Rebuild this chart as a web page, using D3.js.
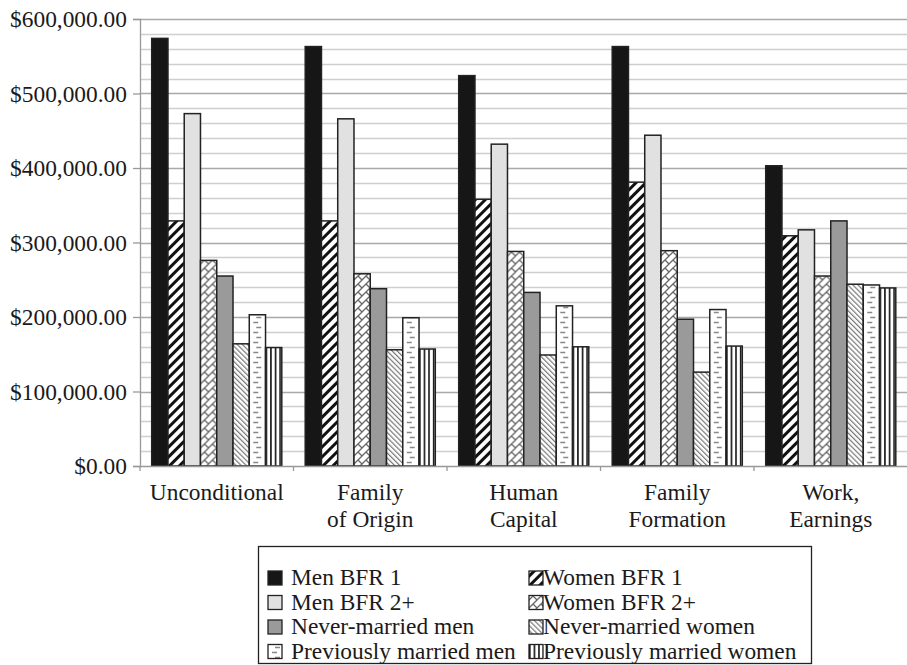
<!DOCTYPE html>
<html>
<head>
<meta charset="utf-8">
<script src="https://cdn.jsdelivr.net/npm/d3@7"></script>
<style>
  body { margin: 0; background: #fff; }
  svg text { font-family: "Liberation Serif", "Times New Roman", serif; }
</style>
</head>
<body>
<script>
// categories (x axis) and the text lines used for their labels
let categories = ["Unconditional", "Family of Origin", "Human Capital", "Family Formation", "Work, Earnings"];
let categoryLines = [["Unconditional"], ["Family", "of Origin"], ["Human", "Capital"], ["Family", "Formation"], ["Work,", "Earnings"]];

let series = ["Men BFR 1", "Women BFR 1", "Men BFR 2+", "Women BFR 2+",
    "Never-married men", "Never-married women", "Previously married men", "Previously married women"];

// values in dollars, one array per series, in category order
let menBfr1 = [574000, 563000, 524000, 563000, 403000];
let womenBfr1 = [329000, 329000, 358000, 381000, 309000];
let menBfr2 = [473000, 466000, 432000, 444000, 317000];
let womenBfr2 = [276000, 258000, 288000, 289000, 255000];
let neverMarriedMen = [255000, 238000, 233000, 197000, 329000];
let neverMarriedWomen = [164000, 156000, 149000, 126000, 244000];
let prevMarriedMen = [203000, 199000, 215000, 210000, 243000];
let prevMarriedWomen = [159000, 157000, 160000, 161000, 239000];

let yTicks = [0, 100000, 200000, 300000, 400000, 500000, 600000];

const FONT = "'Liberation Serif', 'Times New Roman', serif";
const FONT_SIZE = 23.4;

function main() {
    let width = 907, height = 665;
    let allValues = [menBfr1, womenBfr1, menBfr2, womenBfr2, neverMarriedMen, neverMarriedWomen, prevMarriedMen, prevMarriedWomen];

    let svg = d3.select("body").append("svg")
        .attr("width", width)
        .attr("height", height);

    let xScale = d3.scaleBand().domain(categories).range([140, 907.5]).padding(0);
    let xInner = d3.scaleBand().domain(series).range([0, xScale.bandwidth()])
        .paddingInner(0).paddingOuter(0.72);
    let yScale = d3.scaleLinear().domain([0, 600000]).range([466, 19]);

    // gridlines every 20k, darker every 100k
    let grid = svg.append("g");
    grid.selectAll("line")
        .data(d3.range(20000, 600001, 20000))
        .enter().append("line")
        .attr("x1", 140).attr("x2", width)
        .attr("y1", d => Math.round(yScale(d)) + 0.5)
        .attr("y2", d => Math.round(yScale(d)) + 0.5)
        .attr("stroke", d => d % 100000 === 0 ? "#a9a9a9" : "#cfcfcf")
        .attr("stroke-width", 1.3);

    let defs = svg.append("defs");

    // fill for each series, patterns made per bar so they line up with the bar edge
    function fillFor(si, ci, bx) {
        if (si === 0) return "#161616";
        if (si === 2) return "#e1e1e1";
        if (si === 4) return "#9a9a9a";
        let id = "p" + si + "_" + ci;
        let p = defs.append("pattern").attr("id", id).attr("patternUnits", "userSpaceOnUse");
        if (si === 1) {
            p.attr("width", 7).attr("height", 7).attr("patternTransform", "translate(" + bx + ",0) rotate(45)");
            p.append("rect").attr("width", 7).attr("height", 7).attr("fill", "#fff");
            p.append("rect").attr("width", 3).attr("height", 7).attr("fill", "#111");
        } else if (si === 3) {
            p.attr("width", 8).attr("height", 8).attr("patternTransform", "translate(" + bx + ",0)");
            p.append("rect").attr("width", 8).attr("height", 8).attr("fill", "#fff");
            p.append("path").attr("d", "M0,8 L8,0 M-1,1 L1,-1 M7,9 L9,7 M4,4 L8,8 M0,0 L0.5,0.5")
                .attr("stroke", "#666").attr("stroke-width", 1.3).attr("fill", "none");
        } else if (si === 5) {
            p.attr("width", 3.6).attr("height", 3.6).attr("patternTransform", "translate(" + bx + ",0) rotate(-45)");
            p.append("rect").attr("width", 3.6).attr("height", 3.6).attr("fill", "#fff");
            p.append("rect").attr("width", 1.2).attr("height", 3.6).attr("fill", "#777");
        } else if (si === 6) {
            p.attr("width", 16).attr("height", 10).attr("patternTransform", "translate(" + bx + ",0)");
            p.append("rect").attr("width", 16).attr("height", 10).attr("fill", "#fff");
            p.append("path").attr("d", "M4,2.5 L9,2.5 M7,7.5 L12,7.5")
                .attr("stroke", "#888").attr("stroke-width", 1.4);
        } else if (si === 7) {
            p.attr("width", 4.6).attr("height", 10).attr("patternTransform", "translate(" + bx + ",0)");
            p.append("rect").attr("width", 4.6).attr("height", 10).attr("fill", "#fff");
            p.append("rect").attr("width", 1.6).attr("height", 10).attr("fill", "#111");
        }
        return "url(#" + id + ")";
    }

    // bars
    let bars = svg.append("g");
    series.forEach(function(s, si) {
        allValues[si].forEach(function(v, ci) {
            let bx = xScale(categories[ci]) + xInner(s);
            bars.append("rect")
                .attr("x", bx)
                .attr("y", yScale(v))
                .attr("width", xInner.bandwidth())
                .attr("height", yScale(0) - yScale(v))
                .attr("fill", fillFor(si, ci, bx))
                .attr("stroke", "#222")
                .attr("stroke-width", 1.5);
        });
    });

    // y axis
    let yAxis = svg.append("g")
        .attr("transform", "translate(140,0)")
        .call(d3.axisLeft(yScale).tickValues(yTicks).tickFormat(d3.format("$,.2f")).tickSize(7).tickPadding(6))
        .attr("font-family", FONT);
    yAxis.select(".domain").attr("stroke", "#999").attr("stroke-width", 1.3);
    yAxis.selectAll(".tick line").attr("stroke", "#999").attr("stroke-width", 1.3);
    yAxis.selectAll("text").attr("font-size", FONT_SIZE).attr("fill", "#1a1a1a")
        .attr("font-family", FONT);

    // x axis
    let xAxis = svg.append("g")
        .attr("transform", "translate(0,466)")
        .attr("font-family", FONT);
    xAxis.append("line")
        .attr("x1", 140).attr("x2", width).attr("y1", 0.5).attr("y2", 0.5)
        .attr("stroke", "#999").attr("stroke-width", 1.3);
    xAxis.selectAll("line.tick")
        .data(categories)
        .enter().append("line")
        .attr("class", "tick")
        .attr("x1", d => xScale(d)).attr("x2", d => xScale(d))
        .attr("y1", 0).attr("y2", 5)
        .attr("stroke", "#999").attr("stroke-width", 1.3);
    // one text per label line
    categories.forEach(function(d, i) {
        categoryLines[i].forEach(function(line, li) {
            xAxis.append("text")
                .attr("x", xScale(d) + xScale.bandwidth() / 2)
                .attr("y", 34 + li * 27)
                .attr("text-anchor", "middle")
                .attr("font-size", FONT_SIZE)
                .attr("font-family", FONT)
                .attr("fill", "#1a1a1a")
                .text(line);
        });
    });

    // legend
    let legend = svg.append("g").attr("font-family", FONT);
    legend.append("rect")
        .attr("x", 258.5).attr("y", 546.5)
        .attr("width", 553).attr("height", 117)
        .attr("fill", "#fff").attr("stroke", "#222").attr("stroke-width", 1.3);
    series.forEach(function(s, si) {
        let col = si % 2, row = Math.floor(si / 2);
        let sx = col === 0 ? 268 : 529;
        let sy = 571 + row * 24.5;
        legend.append("rect")
            .attr("x", sx).attr("y", sy)
            .attr("width", 14).attr("height", 14)
            .attr("fill", fillFor(si, "legend", sx))
            .attr("stroke", "#222").attr("stroke-width", 1.3);
        legend.append("text")
            .attr("x", sx + (col === 0 ? 23 : 14))
            .attr("y", sy + 14)
            .attr("font-size", FONT_SIZE)
            .attr("font-family", FONT)
            .attr("fill", "#1a1a1a")
            .text(s);
    });
}

main();
</script>
</body>
</html>
